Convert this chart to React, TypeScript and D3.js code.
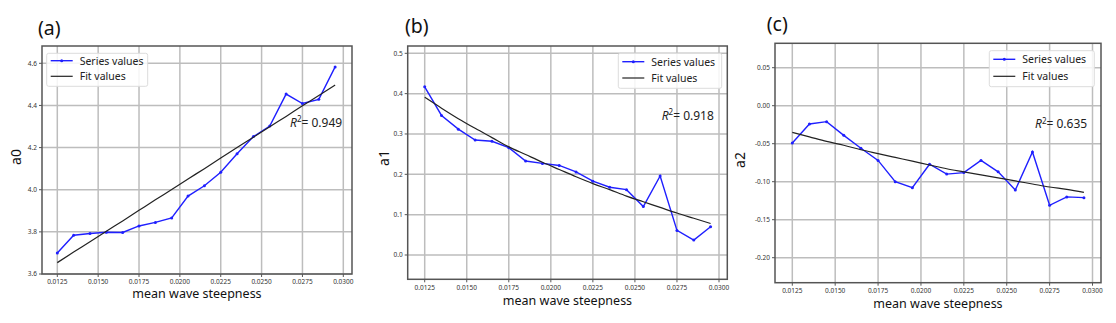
import React, { useRef, useEffect } from "react";
import * as d3 from "d3";

// mean wave steepness (x) shared by all three panels
const steepness = [
  0.0125, 0.0135, 0.0145, 0.0155, 0.0165, 0.0175, 0.0185, 0.0195, 0.0205,
  0.0215, 0.0225, 0.0235, 0.0245, 0.0255, 0.0265, 0.0275, 0.0285, 0.0295,
];

const a0Series = [
  3.7, 3.784, 3.792, 3.798, 3.797, 3.828, 3.845, 3.866, 3.97,
  4.019, 4.083, 4.171, 4.252, 4.302, 4.454, 4.409, 4.429, 4.583,
];
const a0Fit = [
  3.654, 3.704, 3.753, 3.803, 3.852, 3.902, 3.952, 4.001, 4.051,
  4.1, 4.15, 4.2, 4.249, 4.299, 4.348, 4.398, 4.447, 4.497,
];

const a1Series = [
  0.417, 0.346, 0.312, 0.285, 0.282, 0.266, 0.233, 0.227, 0.222,
  0.206, 0.183, 0.168, 0.162, 0.12, 0.196, 0.061, 0.037, 0.07,
];
const a1Fit = [
  0.391, 0.364, 0.338, 0.314, 0.291, 0.268, 0.249, 0.23, 0.212,
  0.194, 0.177, 0.162, 0.146, 0.132, 0.118, 0.104, 0.091, 0.078,
];

const a2Series = [
  -0.049, -0.024, -0.021, -0.039, -0.056, -0.072, -0.1, -0.108, -0.077,
  -0.09, -0.088, -0.072, -0.087, -0.111, -0.061, -0.131, -0.12, -0.121,
];
const a2Fit = [
  -0.035, -0.041, -0.047, -0.052, -0.058, -0.063, -0.068, -0.073, -0.078,
  -0.083, -0.087, -0.091, -0.095, -0.099, -0.103, -0.107, -0.11, -0.114,
];

const xTicks = [0.0125, 0.015, 0.0175, 0.02, 0.0225, 0.025, 0.0275, 0.03];
const a0Ticks = [3.6, 3.8, 4.0, 4.2, 4.4, 4.6];
const a1Ticks = [0.0, 0.1, 0.2, 0.3, 0.4, 0.5];
const a2Ticks = [-0.2, -0.15, -0.1, -0.05, 0.0, 0.05];

const legendLabels = ["Series values", "Fit values"];
const panelNames = ["(a)", "(b)", "(c)"];
const yNames = ["a0", "a1", "a2"];
const r2Values = ["0.949", "0.918", "0.635"];
const xName = "mean wave steepness";

const FONT = "'Noto Sans', 'Open Sans', sans-serif";

// pixel layout of each panel
const panels = [
  {
    series: a0Series, fit: a0Fit, yTicks: a0Ticks, yFmt: ".1f",
    box: [42, 46, 352, 274], xRange: [57.3, 343.3], yDomain: [3.6, 4.6], yRange: [274, 63.3],
    label: [38, 35], yLabel: [21, 157], xLabel: [197, 298], xTickY: 284,
    legend: [46.7, 53.3, 101, 33], legendRows: [60.7, 76.3], r2: [290, 126.7],
  },
  {
    series: a1Series, fit: a1Fit, yTicks: a1Ticks, yFmt: ".1f",
    box: [407.7, 46, 727.3, 279.3], xRange: [424.7, 719], yDomain: [0, 0.5], yRange: [255, 53.3],
    label: [405, 33], yLabel: [389, 158], xLabel: [567.5, 305], xTickY: 290,
    legend: [618.3, 53.3, 103.4, 35], legendRows: [61.7, 78], r2: [661.7, 120],
  },
  {
    series: a2Series, fit: a2Fit, yTicks: a2Ticks, yFmt: ".2f",
    box: [775, 43.3, 1101, 282.7], xRange: [792.3, 1092.5], yDomain: [-0.2, 0.05], yRange: [257.7, 67.7],
    label: [766.7, 31], yLabel: [745, 160], xLabel: [938, 308], xTickY: 292.7,
    legend: [989.3, 50.7, 105, 36], legendRows: [59.3, 76.3], r2: [1035, 128.3],
  },
];

export default function App() {
  const ref = useRef<SVGSVGElement>(null);

  useEffect(() => {
    const svg = d3.select(ref.current);
    svg.selectAll("*").remove();

    panels.forEach((p, i) => {
      const [bx0, by0, bx1, by1] = p.box;
      const x = d3.scaleLinear().domain([0.0125, 0.03]).range(p.xRange);
      const y = d3.scaleLinear().domain(p.yDomain).range(p.yRange);
      const g = svg.append("g");

      // grid
      g.selectAll(".vg").data(xTicks).enter().append("line")
        .attr("x1", d => x(d)).attr("x2", d => x(d))
        .attr("y1", by0).attr("y2", by1)
        .attr("stroke", "#bdbdbd").attr("stroke-width", 1.5);
      g.selectAll(".hg").data(p.yTicks).enter().append("line")
        .attr("x1", bx0).attr("x2", bx1)
        .attr("y1", d => y(d)).attr("y2", d => y(d))
        .attr("stroke", "#bdbdbd").attr("stroke-width", 1.5);

      // frame
      g.append("rect")
        .attr("x", bx0).attr("y", by0)
        .attr("width", bx1 - bx0).attr("height", by1 - by0)
        .attr("fill", "none").attr("stroke", "#555").attr("stroke-width", 1.5);

      // tick marks + labels
      g.selectAll(".xt").data(xTicks).enter().append("line")
        .attr("x1", d => x(d)).attr("x2", d => x(d))
        .attr("y1", by1).attr("y2", by1 + 3)
        .attr("stroke", "#555").attr("stroke-width", 1);
      g.selectAll(".xl").data(xTicks).enter().append("text")
        .attr("x", d => x(d)).attr("y", p.xTickY)
        .attr("text-anchor", "middle")
        .attr("font-family", FONT).attr("font-size", 6.5).attr("fill", "#333")
        .text(d => d3.format(".4f")(d));
      g.selectAll(".yt").data(p.yTicks).enter().append("line")
        .attr("x1", bx0 - 3).attr("x2", bx0)
        .attr("y1", d => y(d)).attr("y2", d => y(d))
        .attr("stroke", "#555").attr("stroke-width", 1);
      g.selectAll(".yl").data(p.yTicks).enter().append("text")
        .attr("x", bx0 - 5).attr("y", d => y(d) + 2.3)
        .attr("text-anchor", "end")
        .attr("font-family", FONT).attr("font-size", 6.5).attr("fill", "#333")
        .text(d => d3.format(p.yFmt)(d).replace("−", "-"));

      // series
      const pts = steepness.map((s, k) => [s, p.series[k]]);
      const line = d3.line<number[]>().x(d => x(d[0])).y(d => y(d[1]));
      g.append("path").attr("d", line(pts))
        .attr("fill", "none").attr("stroke", "#1f1fff").attr("stroke-width", 1.4);
      g.selectAll(".pt").data(pts).enter().append("circle")
        .attr("cx", d => x(d[0])).attr("cy", d => y(d[1])).attr("r", 1.5)
        .attr("fill", "#1f1fff");

      // fit
      const fitPts = steepness.map((s, k) => [s, p.fit[k]]);
      g.append("path").attr("d", d3.line<number[]>().curve(d3.curveMonotoneX).x(d => x(d[0])).y(d => y(d[1]))(fitPts))
        .attr("fill", "none").attr("stroke", "#222").attr("stroke-width", 1.2);

      // legend
      const [lx, ly, lw, lh] = p.legend;
      g.append("rect")
        .attr("x", lx).attr("y", ly).attr("width", lw).attr("height", lh)
        .attr("rx", 2).attr("fill", "white").attr("fill-opacity", 0.85)
        .attr("stroke", "#dcdcdc").attr("stroke-width", 1);
      legendLabels.forEach((lab, k) => {
        const ry = p.legendRows[k];
        g.append("line")
          .attr("x1", lx + 4).attr("x2", lx + 26).attr("y1", ry).attr("y2", ry)
          .attr("stroke", k === 0 ? "#1f1fff" : "#222").attr("stroke-width", k === 0 ? 1.4 : 1.2);
        if (k === 0) {
          g.append("circle").attr("cx", lx + 15).attr("cy", ry).attr("r", 1.5).attr("fill", "#1f1fff");
        }
        g.append("text")
          .attr("x", lx + 33).attr("y", ry + 3.8)
          .attr("font-family", FONT).attr("font-size", 10.5).attr("fill", "#222")
          .text(lab);
      });

      // R^2 annotation
      const r2 = g.append("text")
        .attr("x", p.r2[0]).attr("y", p.r2[1])
        .attr("font-family", FONT).attr("font-size", 12).attr("fill", "#222");
      r2.append("tspan").attr("font-style", "italic").text("R");
      r2.append("tspan").attr("font-size", 8).attr("dy", -4.8).text("2");
      r2.append("tspan").attr("dy", 4.8).text("= " + r2Values[i]);

      // panel label
      g.append("text")
        .attr("x", p.label[0]).attr("y", p.label[1])
        .attr("font-family", FONT).attr("font-size", 19.5).attr("fill", "#111")
        .text(panelNames[i]);

      // axis titles
      g.append("text")
        .attr("transform", `translate(${p.yLabel[0]},${p.yLabel[1]}) rotate(-90)`)
        .attr("text-anchor", "middle")
        .attr("font-family", FONT).attr("font-size", 14).attr("fill", "#111")
        .text(yNames[i]);
      g.append("text")
        .attr("x", p.xLabel[0]).attr("y", p.xLabel[1])
        .attr("text-anchor", "middle")
        .attr("font-family", FONT).attr("font-size", 12.5).attr("fill", "#111")
        .text(xName);
    });
  }, []);

  return (
    <svg
      ref={ref}
      width={1116}
      height={323}
      style={{ position: "absolute", left: 0, top: 0, background: "white" }}
    />
  );
}
